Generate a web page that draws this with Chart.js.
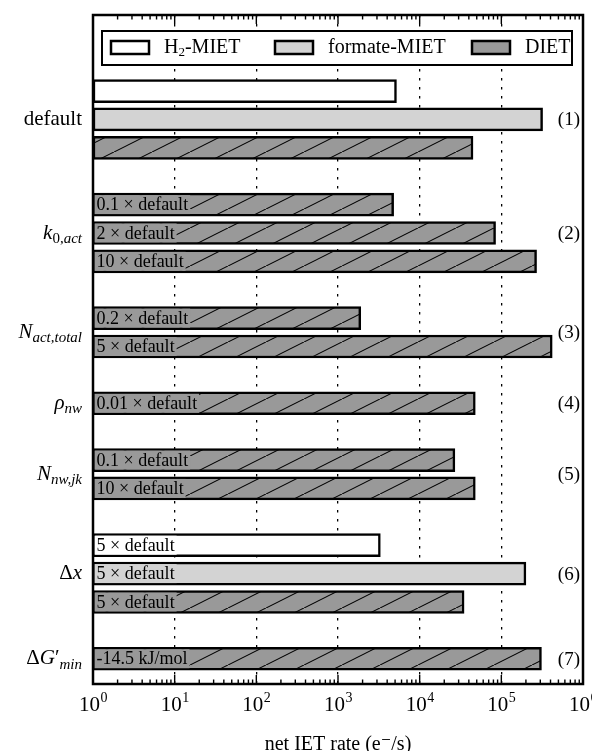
<!DOCTYPE html>
<html>
<head>
<meta charset="utf-8">
<script src="https://cdn.jsdelivr.net/npm/chart.js@4/dist/chart.umd.min.js"></script>
<style>
  html, body { margin: 0; padding: 0; background: #fff; }
</style>
</head>
<body>
<canvas id="rateChart" width="592" height="751"></canvas>
<script>
// one entry per bar, top to bottom
const rowGroup  = [0, 0, 0, 1, 1, 1, 2, 2, 3, 4, 4, 5, 5, 5, 6];
const rowSeries = [0, 1, 2, 2, 2, 2, 2, 2, 2, 2, 2, 0, 1, 2, 2];
const rowRates  = [5200, 3.2e5, 4.5e4, 4.8e3, 8.5e4, 2.7e5, 1.9e3, 4.2e5,
                   4.8e4, 2.7e4, 4.8e4, 3.3e3, 2.0e5, 3.5e4, 3.1e5];
const rowNotes  = ['', '', '', '0.1 × default', '2 × default', '10 × default',
                   '0.2 × default', '5 × default', '0.01 × default',
                   '0.1 × default', '10 × default',
                   '5 × default', '5 × default', '5 × default', '-14.5 kJ/mol'];

const seriesNames = ['H2-MIET', 'formate-MIET', 'DIET'];
const seriesFill  = ['#ffffff', '#d3d3d3', '#999999'];

// y-axis group labels (parts: t text, i italic, s subscript)
const groupLabels = [
  [{t: 'default'}],
  [{t: 'k', i: 1}, {t: '0,', s: 1}, {t: 'act', s: 1, i: 1}],
  [{t: 'N', i: 1}, {t: 'act,total', s: 1, i: 1}],
  [{t: 'ρ', i: 1}, {t: 'nw', s: 1, i: 1}],
  [{t: 'N', i: 1}, {t: 'nw,jk', s: 1, i: 1}],
  [{t: 'Δ'}, {t: 'x', i: 1}],
  [{t: 'Δ'}, {t: 'G', i: 1}, {t: '′'}, {t: 'min', s: 1, i: 1}]
];
const groupTags = ['(1)', '(2)', '(3)', '(4)', '(5)', '(6)', '(7)'];
const tickPowers = [0, 1, 2, 3, 4, 5, 6];

const serif = '"Liberation Serif", "DejaVu Serif", serif';

// one empty row between groups
const slotOf = i => i + rowGroup[i];

function hatch(fill) {
  const c = document.createElement('canvas');
  c.width = 38; c.height = 19;
  const g = c.getContext('2d');
  g.fillStyle = fill;
  g.fillRect(0, 0, 38, 19);
  g.strokeStyle = '#000';
  g.lineWidth = 1.1;
  g.beginPath();
  g.moveTo(-1, 19.5);
  g.lineTo(39, -0.5);
  g.stroke();
  return g.createPattern(c, 'repeat');
}

const rowIndex = [[], [], []];
const datasets = seriesNames.map((name, s) => {
  const pts = [];
  rowRates.forEach((v, i) => {
    if (rowSeries[i] === s) {
      rowIndex[s].push(i);
      pts.push({x: v, y: slotOf(i)});
    }
  });
  return {
    label: name,
    data: pts,
    backgroundColor: s === 2 ? hatch(seriesFill[2]) : seriesFill[s],
    borderColor: '#000',
    borderWidth: 2.5,
    borderSkipped: false,
    grouped: false,
    barThickness: 23
  };
});

function richWidth(ctx, parts, big, small) {
  let w = 0;
  parts.forEach(p => {
    ctx.font = (p.i ? 'italic ' : '') + (p.s ? small : big) + 'px ' + serif;
    w += ctx.measureText(p.t).width;
  });
  return w;
}

function drawRich(ctx, parts, x, y, big, small, drop) {
  parts.forEach(p => {
    ctx.font = (p.i ? 'italic ' : '') + (p.s ? small : big) + 'px ' + serif;
    ctx.fillText(p.t, x, y + (p.s ? drop : 0));
    x += ctx.measureText(p.t).width;
  });
}

const decorations = {
  id: 'decorations',
  afterDatasetsDraw(chart) {
    const ctx = chart.ctx;
    const area = chart.chartArea;
    const xs = chart.scales.x, ys = chart.scales.y;
    ctx.save();
    ctx.textBaseline = 'middle';
    ctx.fillStyle = '#000';

    // notes inside bars, with a plain patch behind the text
    rowNotes.forEach((note, i) => {
      if (!note) return;
      const s = rowSeries[i];
      const bar = chart.getDatasetMeta(s).data[rowIndex[s].indexOf(i)];
      ctx.font = '18px ' + serif;
      const w = ctx.measureText(note).width;
      const x0 = bar.base + 1.5;
      ctx.fillStyle = seriesFill[s];
      ctx.fillRect(x0, bar.y - bar.height / 2 + 2, w + 4, bar.height - 4);
      ctx.fillStyle = '#000';
      ctx.textAlign = 'left';
      ctx.fillText(note, x0 + 2, bar.y + 1);
    });

    // group labels left, tags right
    groupLabels.forEach((parts, g) => {
      const slots = rowGroup.map((gg, i) => gg === g ? slotOf(i) : null).filter(v => v !== null);
      const mid = slots.reduce((a, b) => a + b, 0) / slots.length;
      const y = ys.getPixelForValue(mid);
      ctx.textAlign = 'left';
      const w = richWidth(ctx, parts, 21, 15);
      drawRich(ctx, parts, area.left - 11 - w, y, 21, 15, 6);
      ctx.font = '19px ' + serif;
      ctx.textAlign = 'right';
      ctx.fillText(groupTags[g], area.right - 3, y + 1);
    });

    // legend box
    const lx = 102, ly = 31, lw = 470, lh = 34;
    ctx.fillStyle = '#fff';
    ctx.fillRect(lx, ly, lw, lh);
    ctx.lineWidth = 2;
    ctx.strokeStyle = '#000';
    ctx.strokeRect(lx, ly, lw, lh);
    const sx = [111, 275, 472];
    const ly0 = ly + lh / 2;
    chart.data.datasets.forEach((ds, s) => {
      ctx.fillStyle = seriesFill[s];
      ctx.fillRect(sx[s], ly0 - 7, 38, 13);
      ctx.lineWidth = 2.5;
      ctx.strokeRect(sx[s], ly0 - 7, 38, 13);
      ctx.fillStyle = '#000';
      ctx.textAlign = 'left';
      const parts = ds.label === 'H2-MIET'
        ? [{t: 'H'}, {t: '2', s: 1}, {t: '-MIET'}]
        : [{t: ds.label}];
      drawRich(ctx, parts, sx[s] + 53, ly0, 20, 13, 5);
    });

    // frame and inward ticks
    ctx.strokeStyle = '#000';
    ctx.lineWidth = 1.4;
    ctx.beginPath();
    tickPowers.forEach(n => {
      for (let m = 1; m <= 9; m++) {
        const v = m * Math.pow(10, n);
        if (v > xs.max) break;
        const px = xs.getPixelForValue(v);
        const len = m === 1 ? 9 : 4.5;
        ctx.moveTo(px, area.bottom); ctx.lineTo(px, area.bottom - len);
        ctx.moveTo(px, area.top); ctx.lineTo(px, area.top + len);
      }
    });
    ctx.stroke();
    ctx.lineWidth = 2.5;
    ctx.strokeRect(area.left, area.top, area.right - area.left, area.bottom - area.top);

    // x tick labels 10^n
    ctx.textAlign = 'left';
    ctx.textBaseline = 'alphabetic';
    tickPowers.forEach(n => {
      const px = xs.getPixelForValue(Math.pow(10, n));
      ctx.font = '21px ' + serif;
      const w1 = ctx.measureText('10').width;
      ctx.font = '14px ' + serif;
      const w2 = ctx.measureText(String(n)).width;
      const x0 = px - (w1 + w2) / 2;
      ctx.font = '21px ' + serif;
      ctx.fillText('10', x0, area.bottom + 27);
      ctx.font = '14px ' + serif;
      ctx.fillText(String(n), x0 + w1 + 0.5, area.bottom + 18);
    });
    ctx.restore();
  }
};

const isInnerDecade = v => {
  const l = Math.log10(v);
  return Math.abs(l - Math.round(l)) < 1e-9 && v > 1 && v < 1e6;
};

new Chart(document.getElementById('rateChart'), {
  type: 'bar',
  data: { datasets: datasets },
  options: {
    indexAxis: 'y',
    responsive: false,
    animation: false,
    layout: { padding: { left: 93, right: 9, top: 15, bottom: 0 } },
    plugins: { legend: { display: false }, tooltip: { enabled: false } },
    scales: {
      x: {
        type: 'logarithmic',
        min: 1,
        max: 1e6,
        ticks: { display: false },
        grid: {
          drawTicks: false,
          lineWidth: 1.3,
          color: c => isInnerDecade(c.tick.value) ? '#000' : 'rgba(0,0,0,0)'
        },
        border: { display: false, dash: [2.5, 6.5] },
        title: {
          display: true,
          text: 'net IET rate (e⁻/s)',
          color: '#000',
          font: { family: serif, size: 20 },
          padding: { top: 0, bottom: -6 }
        },
        afterFit(scale) { scale.height = 67; }
      },
      y: {
        type: 'linear',
        reverse: true,
        offset: false,
        min: -2.68,
        max: 20.89,
        display: false
      }
    }
  },
  plugins: [decorations]
});
</script>
</body>
</html>
